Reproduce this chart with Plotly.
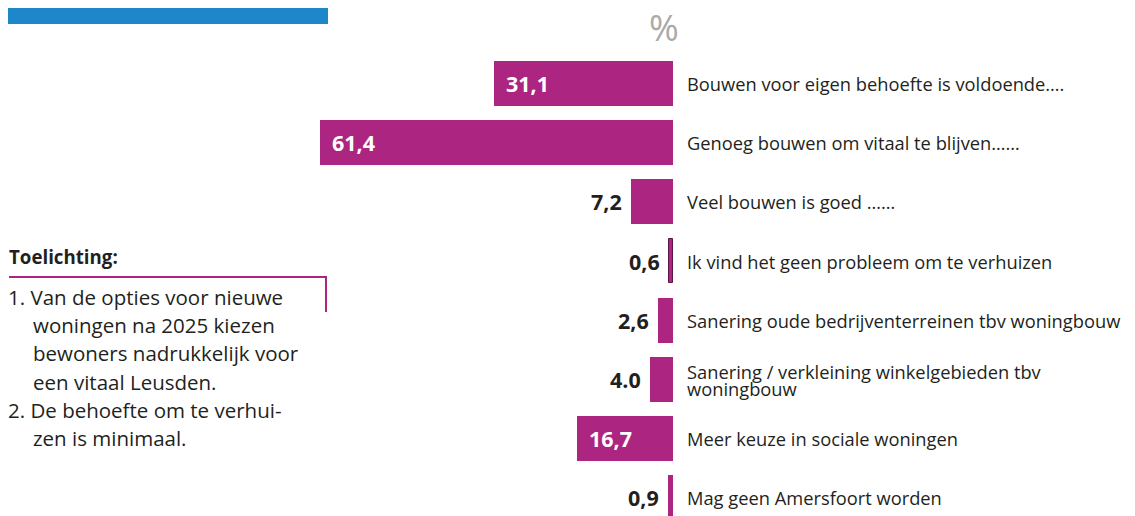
import plotly.graph_objects as go

categories = [
    "Bouwen voor eigen behoefte is voldoende….",
    "Genoeg bouwen om vitaal te blijven……",
    "Veel bouwen is goed ……",
    "Ik vind het geen probleem om te verhuizen",
    "Sanering oude bedrijventerreinen tbv woningbouw",
    "Sanering / verkleining winkelgebieden tbv\nwoningbouw",
    "Meer keuze in sociale woningen",
    "Mag geen Amersfoort worden",
]
values = [31.1, 61.4, 7.2, 0.6, 2.6, 4.0, 16.7, 0.9]
value_labels = ["31,1", "61,4", "7,2", "0,6", "2,6", "4.0", "16,7", "0,9"]
inside_flags = [True, True, False, False, False, False, True, False]

notes_title = "Toelichting:"
notes_lines = [
    ("1. Van de opties voor nieuwe", 0),
    ("woningen na 2025 kiezen", 1),
    ("bewoners nadrukkelijk voor", 1),
    ("een vitaal Leusden.", 1),
    ("2. De behoefte om te verhui-", 0),
    ("zen is minimaal.", 1),
]

# page body has an 8px margin; compensate so the picture lines up with the window
OFF = 8
W, H = 1135 - OFF, 516 - OFF
MAGENTA = "#ac2581"
TXT = "#231f20"
FONT = "Open Sans"


def px(xp):
    return (xp - OFF) / W


def py(yp):
    return 1 - (yp - OFF) / H


ypos = list(range(len(values)))
fig = go.Figure()
fig.add_trace(go.Bar(
    x=values, y=ypos, orientation="h", width=0.76,
    marker=dict(color=MAGENTA,
                line=dict(color=["#5b1647" if i == 3 else MAGENTA for i in range(len(values))],
                          width=[1 if i == 3 else 0 for i in range(len(values))])),
    hoverinfo="skip", showlegend=False,
))

annotations = []
for i, (v, lab, ins, cat) in enumerate(zip(values, value_labels, inside_flags, categories)):
    if ins:
        annotations.append(dict(x=v, y=i, xref="x", yref="y", text=f"<b>{lab}</b>",
                                xanchor="left", xshift=10, showarrow=False,
                                font=dict(family=FONT, size=21.5, color="white")))
    else:
        annotations.append(dict(x=v, y=i, xref="x", yref="y", text=f"<b>{lab}</b>",
                                xanchor="right", xshift=-7, showarrow=False,
                                font=dict(family=FONT, size=21.5, color=TXT)))
    parts = cat.split("\n")
    if len(parts) == 1:
        annotations.append(dict(x=0, y=i, xref="x", yref="y", text=parts[0],
                                xanchor="left", xshift=12, showarrow=False,
                                font=dict(family=FONT, size=18.3, color=TXT)))
    else:
        for k, p in enumerate(parts):
            annotations.append(dict(x=0, y=i, xref="x", yref="y", text=p,
                                    xanchor="left", xshift=12, yshift=8 - 17 * k, showarrow=False,
                                    font=dict(family=FONT, size=18.3, color=TXT)))

# percent sign
annotations.append(dict(x=px(664), y=py(27), xref="paper", yref="paper", text="%",
                        showarrow=False, xanchor="center", yanchor="middle",
                        font=dict(family=FONT, size=36, color="#aaaaaa")))
# notes
annotations.append(dict(x=px(7), y=py(256), xref="paper", yref="paper", text=f"<b>{notes_title}</b>",
                        showarrow=False, xanchor="left", yanchor="middle",
                        font=dict(family=FONT, size=18.7, color=TXT)))
for k, (line, indent) in enumerate(notes_lines):
    annotations.append(dict(x=px(6 + 25 * indent), y=py(297 + 28.2 * k), xref="paper", yref="paper",
                            text=line, showarrow=False, xanchor="left", yanchor="middle",
                            font=dict(family=FONT, size=20.5, color=TXT)))

shapes = [
    dict(type="rect", xref="paper", yref="paper", x0=0, x1=px(328), y0=py(24), y1=1,
         fillcolor="#1e87c9", line=dict(width=0)),
    dict(type="path", xref="paper", yref="paper",
         path=f"M {px(9)} {py(277)} L {px(326)} {py(277)} L {px(326)} {py(312)}",
         line=dict(color=MAGENTA, width=2)),
]

px_per_unit = 5.745
zero_px = 672.7 - OFF
bar0_center = 83.5 - OFF
bar7_center = 497.5 - OFF
pitch = 59.0
fig.update_layout(
    width=W, height=H, autosize=False,
    margin=dict(l=0, r=0, t=0, b=0),
    paper_bgcolor="white", plot_bgcolor="white",
    xaxis=dict(range=[zero_px / px_per_unit, -(W - zero_px) / px_per_unit],
               visible=False, fixedrange=True),
    yaxis=dict(range=[7 + (H - bar7_center) / pitch, -bar0_center / pitch], visible=False, fixedrange=True),
    annotations=annotations, shapes=shapes,
    bargap=0,
)
fig.write_html("out.html")
